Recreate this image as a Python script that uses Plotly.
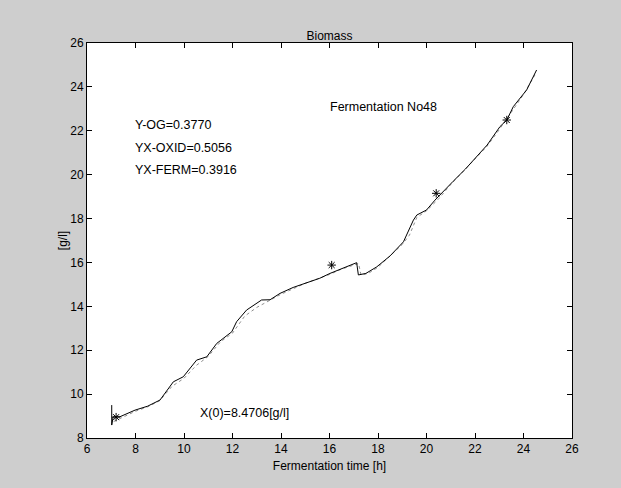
import plotly.graph_objects as go

# Measured biomass (black)
t_meas = [7.02, 7.02, 7.08, 7.36, 7.98, 8.5, 9.01, 9.56, 9.97, 10.52, 10.94, 11.35, 11.97, 12.17,
          12.58, 13.2, 13.55, 13.96, 14.5, 15.2, 15.6, 16.02, 16.5, 17.12, 17.19, 17.5, 17.95,
          18.5, 19.05, 19.46, 19.6, 20.0, 20.35, 20.7, 21.1, 21.6, 22.07, 22.5, 23.03, 23.31,
          23.58, 24.13, 24.54]
x_meas = [9.5, 8.59, 8.97, 8.97, 9.27, 9.45, 9.73, 10.56, 10.79, 11.55, 11.70, 12.31, 12.84, 13.30,
          13.83, 14.29, 14.3, 14.59, 14.86, 15.12, 15.28, 15.5, 15.72, 15.99, 15.43, 15.5, 15.8,
          16.3, 16.94, 17.93, 18.16, 18.39, 18.84, 19.25, 19.7, 20.25, 20.82, 21.35, 22.19, 22.49,
          23.1, 23.86, 24.77]

# Model / smoothed biomass (grey, dotted)
t_model = [7.1, 7.4, 8.0, 8.5, 9.0, 9.5, 10.0, 10.5, 11.0, 11.5, 12.0, 12.5, 13.0, 13.5, 14.0,
           14.5, 15.0, 15.5, 16.0, 16.5, 17.0, 17.2, 17.3, 17.6, 18.0, 18.5, 19.0, 19.3, 19.6,
           20.0, 20.5, 21.0, 21.5, 22.0, 22.5, 23.0, 23.5, 24.0, 24.5]
x_model = [8.75, 8.9, 9.22, 9.42, 9.7, 10.35, 10.72, 11.3, 11.72, 12.38, 12.78, 13.55, 13.95, 14.25,
           14.55, 14.8, 15.05, 15.25, 15.45, 15.7, 15.9, 15.95, 15.42, 15.5, 15.78, 16.3, 16.82,
           17.25, 18.05, 18.35, 18.9, 19.55, 20.15, 20.75, 21.3, 22.05, 22.85, 23.65, 24.6]

# Marked sample points (stars)
t_star = [7.2, 16.09, 20.4, 23.31]
x_star = [8.95, 15.88, 19.15, 22.49]

x_ticks = [6, 8, 10, 12, 14, 16, 18, 20, 22, 24, 26]
y_ticks = [8, 10, 12, 14, 16, 18, 20, 22, 24, 26]

fig = go.Figure()
fig.add_trace(go.Scatter(x=t_model, y=x_model, mode="lines",
                         line=dict(color="#909090", width=1, dash="dot"), hoverinfo="skip"))
fig.add_trace(go.Scatter(x=t_meas, y=x_meas, mode="lines",
                         line=dict(color="black", width=1), hoverinfo="skip"))
fig.add_trace(go.Scatter(x=t_star, y=x_star, mode="markers",
                         marker=dict(symbol="asterisk-open", size=7, color="black",
                                     line=dict(color="black", width=1)), hoverinfo="skip"))

font = dict(family="Liberation Sans, Arial, sans-serif", size=12, color="black")
afont = dict(family="Liberation Sans, Arial, sans-serif", size=12.5, color="black")

annots = [
    dict(x=7.98, y=22.26, text="Y-OG=0.3770"),
    dict(x=7.98, y=21.2, text="YX-OXID=0.5056"),
    dict(x=7.98, y=20.21, text="YX-FERM=0.3916"),
    dict(x=16.02, y=23.07, text="Fermentation No48"),
    dict(x=10.66, y=9.12, text="X(0)=8.4706[g/l]"),
]
for a in annots:
    fig.add_annotation(x=a["x"], y=a["y"], text=a["text"], showarrow=False,
                       xanchor="left", yanchor="middle", font=afont, xshift=-2)

axis_common = dict(showline=True, linecolor="black", linewidth=1, mirror="ticks",
                   ticks="inside", ticklen=5, tickcolor="black", showgrid=False,
                   zeroline=False, tickfont=font, automargin=False)

fig.update_layout(
    width=621, height=488,
    margin=dict(l=87, r=49, t=43, b=50, autoexpand=False),
    paper_bgcolor="#cecece", plot_bgcolor="white",
    showlegend=False,
    title=dict(text="Biomass", x=0.5, xref="paper", xanchor="center",
               y=1, yref="paper", yanchor="bottom", pad=dict(b=3), font=font,
               automargin=False),
    xaxis=dict(range=[6, 26], tickvals=x_ticks,
               title=dict(text="Fermentation time [h]", font=font, standoff=6), **axis_common),
    yaxis=dict(range=[8, 26], tickvals=y_ticks,
               title=dict(text="[g/l]", font=font, standoff=0), **axis_common),
    font=font,
)

fig.write_html("out.html", config={"displayModeBar": False},
               post_script="document.body.style.margin='0';document.body.style.background='#cecece';")
